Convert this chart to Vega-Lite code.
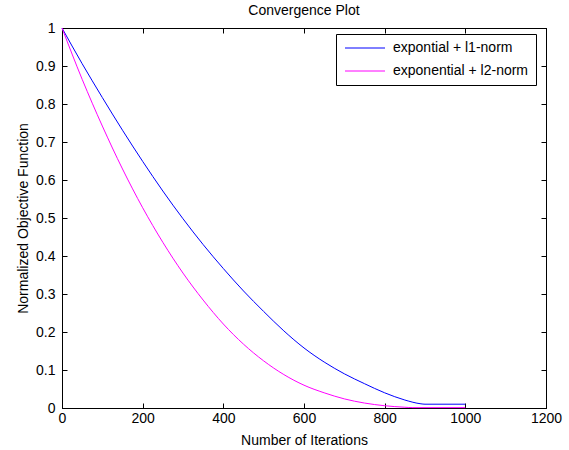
{
  "$schema": "https://vega.github.io/schema/vega-lite/v6.json",
  "width": 484,
  "height": 380,
  "autosize": {"type": "none"},
  "padding": {"left": 62, "top": 28, "right": 23, "bottom": 42},
  "background": "white",
  "title": {"text": "Convergence Plot", "fontSize": 14, "font": "Liberation Sans", "fontWeight": "normal", "color": "black", "offset": 3},
  "config": {
    "font": "Liberation Sans",
    "view": {"stroke": "black", "strokeWidth": 1},
    "axis": {
      "grid": false,
      "domainColor": "black",
      "tickColor": "black",
      "tickSize": -5,
      "labelColor": "black",
      "titleColor": "black",
      "labelFont": "Liberation Sans",
      "titleFont": "Liberation Sans",
      "labelFontSize": 14,
      "titleFontSize": 14,
      "titleFontWeight": "normal"
    }
  },
  "data": {
    "values": [
      {"iter": 0, "value": 1, "series": "expontial + l1-norm"},
      {"iter": 50, "value": 0.906, "series": "expontial + l1-norm"},
      {"iter": 100, "value": 0.817, "series": "expontial + l1-norm"},
      {"iter": 150, "value": 0.731, "series": "expontial + l1-norm"},
      {"iter": 200, "value": 0.649, "series": "expontial + l1-norm"},
      {"iter": 250, "value": 0.571, "series": "expontial + l1-norm"},
      {"iter": 300, "value": 0.498, "series": "expontial + l1-norm"},
      {"iter": 350, "value": 0.430, "series": "expontial + l1-norm"},
      {"iter": 400, "value": 0.367, "series": "expontial + l1-norm"},
      {"iter": 450, "value": 0.308, "series": "expontial + l1-norm"},
      {"iter": 500, "value": 0.254, "series": "expontial + l1-norm"},
      {"iter": 550, "value": 0.203, "series": "expontial + l1-norm"},
      {"iter": 600, "value": 0.158, "series": "expontial + l1-norm"},
      {"iter": 650, "value": 0.121, "series": "expontial + l1-norm"},
      {"iter": 700, "value": 0.090, "series": "expontial + l1-norm"},
      {"iter": 750, "value": 0.064, "series": "expontial + l1-norm"},
      {"iter": 800, "value": 0.040, "series": "expontial + l1-norm"},
      {"iter": 850, "value": 0.021, "series": "expontial + l1-norm"},
      {"iter": 890, "value": 0.011, "series": "expontial + l1-norm"},
      {"iter": 900, "value": 0.010, "series": "expontial + l1-norm"},
      {"iter": 1000, "value": 0.010, "series": "expontial + l1-norm"},
      {"iter": 0, "value": 1, "series": "exponential + l2-norm"},
      {"iter": 50, "value": 0.865, "series": "exponential + l2-norm"},
      {"iter": 100, "value": 0.742, "series": "exponential + l2-norm"},
      {"iter": 150, "value": 0.629, "series": "exponential + l2-norm"},
      {"iter": 200, "value": 0.527, "series": "exponential + l2-norm"},
      {"iter": 250, "value": 0.436, "series": "exponential + l2-norm"},
      {"iter": 300, "value": 0.355, "series": "exponential + l2-norm"},
      {"iter": 350, "value": 0.284, "series": "exponential + l2-norm"},
      {"iter": 400, "value": 0.221, "series": "exponential + l2-norm"},
      {"iter": 450, "value": 0.168, "series": "exponential + l2-norm"},
      {"iter": 500, "value": 0.124, "series": "exponential + l2-norm"},
      {"iter": 550, "value": 0.088, "series": "exponential + l2-norm"},
      {"iter": 600, "value": 0.060, "series": "exponential + l2-norm"},
      {"iter": 650, "value": 0.040, "series": "exponential + l2-norm"},
      {"iter": 700, "value": 0.024, "series": "exponential + l2-norm"},
      {"iter": 750, "value": 0.013, "series": "exponential + l2-norm"},
      {"iter": 800, "value": 0.006, "series": "exponential + l2-norm"},
      {"iter": 850, "value": 0.002, "series": "exponential + l2-norm"},
      {"iter": 870, "value": 0.001, "series": "exponential + l2-norm"},
      {"iter": 1000, "value": 0.001, "series": "exponential + l2-norm"}
    ]
  },
  "layer": [
    {
      "mark": {"type": "line", "strokeWidth": 1, "interpolate": "monotone"},
      "encoding": {
        "x": {
          "field": "iter", "type": "quantitative",
          "scale": {"domain": [0, 1200], "nice": false},
          "axis": {"orient": "bottom", "title": "Number of Iterations", "values": [0, 200, 400, 600, 800, 1000, 1200], "format": "d", "labelPadding": 8, "titlePadding": 8, "labelFlush": false}
        },
        "y": {
          "field": "value", "type": "quantitative",
          "scale": {"domain": [0, 1], "nice": false},
          "axis": {"orient": "left", "title": "Normalized Objective Function", "values": [0, 0.1, 0.2, 0.3, 0.4, 0.5, 0.6, 0.7, 0.8, 0.9, 1], "format": "~g", "labelPadding": 12, "titlePadding": 5, "labelFlush": false}
        },
        "color": {
          "field": "series", "type": "nominal",
          "scale": {"domain": ["expontial + l1-norm", "exponential + l2-norm"], "range": ["#0000ff", "#ff00ff"]},
          "legend": {
            "title": null,
            "orient": "none",
            "legendX": 274,
            "legendY": 6,
            "symbolType": "M-1,0H7",
            "symbolSize": 100,
            "symbolStrokeWidth": 1,
            "labelFont": "Liberation Sans",
            "labelFontSize": 14,
            "labelColor": "black",
            "strokeColor": "black",
            "fillColor": "white",
            "padding": 7,
            "labelOffset": 36,
            "rowPadding": 9
          }
        }
      }
    },
    {
      "mark": {"type": "line", "opacity": 0},
      "encoding": {
        "x": {
          "field": "iter", "type": "quantitative",
          "axis": {"orient": "top", "title": null, "labels": false, "values": [0, 200, 400, 600, 800, 1000, 1200], "tickSize": -5}
        },
        "y": {
          "field": "value", "type": "quantitative",
          "axis": {"orient": "right", "title": null, "labels": false, "values": [0, 0.1, 0.2, 0.3, 0.4, 0.5, 0.6, 0.7, 0.8, 0.9, 1], "tickSize": -5}
        },
        "detail": {"field": "series"}
      }
    }
  ],
  "resolve": {"axis": {"x": "independent", "y": "independent"}}
}
